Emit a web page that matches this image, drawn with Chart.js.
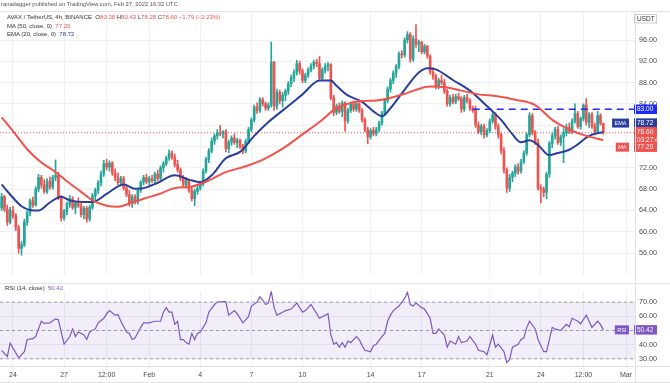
<!DOCTYPE html>
<html><head><meta charset="utf-8">
<script src="https://cdn.jsdelivr.net/npm/chart.js@4.4.0/dist/chart.umd.min.js"></script>
<style>
body{margin:0;width:670px;height:383px;overflow:hidden;background:#fff;position:relative;font-family:"Liberation Sans",Arial,sans-serif;}
.t{position:absolute;white-space:nowrap;line-height:1;color:#444;}
.ln{position:absolute;background:#e0e3eb;}
.r{color:#ef5350}.b{color:#2a3f9d}.p{color:#7e57c2}
</style></head><body>
<canvas id="c1" width="670" height="283" style="position:absolute;left:0;top:0"></canvas>
<canvas id="c2" width="670" height="100" style="position:absolute;left:0;top:283px"></canvas>
<div class="ln" style="left:0;top:11px;width:670px;height:1px"></div>
<div class="ln" style="left:0;top:283px;width:670px;height:1px"></div>
<div class="ln" style="left:0;top:366px;width:670px;height:1px"></div>
<div class="ln" style="left:0;top:382px;width:670px;height:1px"></div>
<div class="ln" style="left:635px;top:11px;width:1px;height:372px"></div>
<div class="t" style="left:1px;top:2px;font-size:5.8px;color:#555">ranadagger published on TradingView.com, Feb 27, 2022 16:32 UTC</div>
<div class="t" style="left:7px;top:14px;font-size:6px;color:#333">AVAX / TetherUS, 4h, BINANCE &nbsp;O<span class="r">80.38</span> H<span class="r">80.43</span> L<span class="r">78.28</span> C<span class="r">78.60</span> <span class="r">−1.79 (−2.23%)</span></div>
<div class="t" style="left:7px;top:23px;font-size:6px;color:#333">MA (50, close, 0) &nbsp;<span class="r">77.20</span></div>
<div class="t" style="left:7px;top:31px;font-size:6px;color:#333">EMA (20, close, 0) &nbsp;<span class="b">78.72</span></div>
<div class="t" style="left:5px;top:285px;font-size:6px;color:#333">RSI (14, close) &nbsp;<span class="p">50.42</span></div>
<script>
// ---- time axis (candle index units, 4h candles, index 0 = Jan 23 08:00) ----
const timeTickPos    = [4, 22, 37, 52, 70, 88, 106, 130, 148, 172, 190, 205, 220];
const timeTickLabels = ['24','27','12:00','Feb','4','7','10','14','17','21','24','12:00','Mar'];
const priceTicks = [56,60,64,68,72,76,80,84,88,92,96];
const rsiTicks = [30,40,50,60,70];
const rsiLevels = [70,50,30];

// ---- candles ----
const open = [64.5,66.6,64.2,61.8,64.0,63.0,60.8,56.9,57.6,61.8,63.6,65.8,65.0,68.0,70.2,68.8,67.6,69.5,68.4,70.2,70.6,66.4,62.6,63.8,65.2,66.2,64.6,65.4,64.9,63.2,64.4,62.4,64.6,66.8,67.8,69.2,70.9,72.8,72.2,72.9,71.0,70.2,69.2,70.0,68.2,67.0,65.4,66.6,65.6,67.8,69.3,70.2,69.4,70.0,69.6,70.8,70.0,72.0,72.8,73.8,74.8,74.0,72.6,71.6,70.0,68.8,69.6,67.8,66.2,67.6,68.2,69.0,71.4,73.6,75.2,77.0,78.0,78.6,78.4,78.8,75.6,76.8,77.6,76.8,77.2,76.0,75.2,77.0,79.2,81.0,83.4,82.8,84.8,84.0,83.2,83.8,91.8,83.6,86.2,84.6,85.6,86.4,87.8,88.8,89.9,91.6,90.2,88.4,89.4,90.4,91.2,91.8,91.6,88.8,90.4,91.0,91.4,85.2,82.4,83.6,82.6,84.2,80.8,82.8,84.0,83.0,84.0,82.8,81.0,79.2,77.8,79.0,78.4,79.2,80.4,82.2,84.6,86.8,88.4,89.8,91.0,93.4,93.2,96.0,97.0,92.4,96.2,95.2,95.6,93.8,94.8,93.0,90.0,89.2,87.4,88.4,88.0,86.4,84.0,85.2,84.4,85.4,85.0,83.0,85.2,84.6,83.2,82.8,80.0,78.8,79.8,78.2,79.0,80.8,82.0,79.8,78.2,75.2,71.6,68.2,70.2,71.0,72.2,71.4,73.2,74.8,78.2,81.8,78.6,76.8,68.2,68.0,67.4,70.8,76.6,78.0,79.2,76.8,77.8,78.6,79.6,78.8,80.8,82.2,79.8,81.2,83.8,80.6,82.0,79.8,78.8,81.8,80.38];
const high = [67.2,66.9,65.0,64.6,64.8,63.4,61.2,58.2,62.4,64.0,66.2,66.5,68.5,70.8,70.6,69.8,70.0,70.3,70.6,73.5,71.2,66.8,64.2,65.6,66.8,66.6,65.8,66.4,65.5,64.8,64.8,65.0,67.2,68.2,69.6,71.4,73.4,73.6,73.3,73.2,71.8,71.0,70.4,70.4,68.6,67.8,67.0,67.0,68.2,69.6,70.6,70.8,70.4,70.6,71.2,71.6,72.4,73.2,74.2,75.4,75.2,74.6,73.4,72.0,70.6,70.2,69.8,68.4,68.0,68.6,69.4,71.8,74.0,75.6,77.6,78.4,79.2,80.0,79.0,79.2,77.2,78.0,78.4,77.6,77.4,76.4,77.4,79.6,81.4,83.8,84.2,85.2,85.2,84.4,84.2,95.6,92.0,86.8,86.6,86.2,86.8,88.2,89.4,90.4,92.2,92.0,90.6,89.8,90.8,91.6,92.2,92.4,92.9,90.8,91.6,91.8,91.6,85.6,84.0,84.2,84.6,84.4,83.2,84.4,84.6,84.4,84.2,83.2,81.4,79.6,79.4,79.6,79.6,80.8,82.6,85.0,87.2,88.8,90.2,91.4,93.8,94.0,96.4,97.6,97.4,96.8,98.9,96.0,95.8,95.2,95.0,93.2,90.8,89.6,88.8,89.4,88.6,86.8,85.6,85.8,85.8,86.0,85.4,85.6,85.8,85.0,83.6,83.6,80.6,80.2,80.2,79.4,81.2,82.6,82.4,80.2,78.6,75.8,72.0,70.8,71.4,72.6,72.8,73.6,75.2,78.6,82.4,82.2,79.0,77.4,68.8,68.4,71.2,77.0,78.6,79.6,79.8,78.2,79.4,80.2,80.4,81.2,84.0,82.6,81.6,84.0,85.0,82.4,82.4,80.4,82.6,82.2,80.43];
const low = [64.0,63.8,61.2,61.5,62.5,60.2,56.0,55.6,57.2,61.2,63.0,64.6,64.8,67.5,68.2,67.2,67.2,68.0,68.0,69.6,66.0,62.0,62.2,63.2,64.6,64.2,63.4,64.6,62.8,62.4,61.8,62.0,64.2,66.0,67.2,68.6,70.4,71.6,71.4,70.6,69.6,68.8,68.6,67.8,66.6,64.8,64.6,65.2,65.2,67.4,68.8,69.0,68.8,69.2,69.2,69.6,69.6,71.2,72.4,73.4,73.6,72.2,71.2,69.6,68.4,68.2,67.4,65.8,64.9,67.0,67.8,68.6,71.0,73.0,74.8,76.4,77.4,78.0,77.6,75.0,74.8,76.2,76.4,75.8,75.6,74.6,74.8,76.6,78.8,80.6,82.2,82.4,83.6,82.8,82.8,83.4,82.8,83.0,84.0,83.4,84.6,85.8,87.2,88.2,89.4,89.6,88.0,88.0,89.0,90.0,90.6,91.0,88.4,88.4,89.8,90.2,84.8,81.8,82.0,82.2,81.6,78.9,80.4,82.4,82.6,82.6,82.4,80.6,78.8,76.5,77.4,78.0,78.0,78.8,80.0,81.8,84.2,86.2,87.8,89.0,90.6,92.6,92.8,95.4,91.8,92.0,94.6,93.8,93.4,93.4,92.6,89.6,88.6,86.8,86.8,87.6,86.0,83.6,83.6,84.0,84.0,84.6,82.4,82.6,84.2,82.8,82.4,79.6,78.4,78.2,77.6,77.8,78.6,80.4,79.2,77.6,74.6,71.0,67.4,67.6,69.4,70.4,70.8,71.0,72.8,74.4,77.8,78.2,76.4,67.8,65.4,66.6,66.2,70.2,75.8,77.4,76.4,76.2,73.0,78.0,78.4,78.4,80.4,79.4,79.2,80.8,80.0,79.6,79.4,78.2,78.4,80.0,78.28];
const close = [66.6,64.2,61.8,64.0,63.0,60.8,56.9,57.6,61.8,63.6,65.8,65.0,68.0,70.2,68.8,67.6,69.5,68.4,70.2,70.6,66.4,62.6,63.8,65.2,66.2,64.6,65.4,64.9,63.2,64.4,62.4,64.6,66.8,67.8,69.2,70.9,72.8,72.2,72.9,71.0,70.2,69.2,70.0,68.2,67.0,65.4,66.6,65.6,67.8,69.3,70.2,69.4,70.0,69.6,70.8,70.0,72.0,72.8,73.8,74.8,74.0,72.6,71.6,70.0,68.8,69.6,67.8,66.2,67.6,68.2,69.0,71.4,73.6,75.2,77.0,78.0,78.6,78.4,78.8,75.6,76.8,77.6,76.8,77.2,76.0,75.2,77.0,79.2,81.0,83.4,82.8,84.8,84.0,83.2,83.8,91.8,83.6,86.2,84.6,85.6,86.4,87.8,88.8,89.9,91.6,90.2,88.4,89.4,90.4,91.2,91.8,91.6,88.8,90.4,91.0,91.4,85.2,82.4,83.6,82.6,84.2,80.8,82.8,84.0,83.0,84.0,82.8,81.0,79.2,77.8,79.0,78.4,79.2,80.4,82.2,84.6,86.8,88.4,89.8,91.0,93.4,93.2,96.0,97.0,92.4,96.2,95.2,95.6,93.8,94.8,93.0,90.0,89.2,87.4,88.4,88.0,86.4,84.0,85.2,84.4,85.4,85.0,83.0,85.2,84.6,83.2,82.8,80.0,78.8,79.8,78.2,79.0,80.8,82.0,79.8,78.2,75.2,71.6,68.2,70.2,71.0,72.2,71.4,73.2,74.8,78.2,81.8,78.6,76.8,68.2,68.0,67.4,70.8,76.6,78.0,79.2,76.8,77.8,78.6,79.6,78.8,80.8,82.2,79.8,81.2,83.8,80.6,82.0,79.8,78.8,81.8,80.38,78.60];

// ---- indicators ----
const maIdx = [0,4,9,14,18,23,28,32,37,41,45,50,55,61,67,72,79,86,93,99,106,112,118,124,134,142,151,157,162,168,174,181,188,194,200,206,212];
const maVal = [81.5,78.9,75.5,73.0,71.6,69.5,67.5,65.9,64.9,64.7,65.3,66.2,67.0,68.2,68.5,69.4,71.2,72.3,73.8,75.6,78.3,80.6,83.2,84.3,84.8,85.9,87.3,87.1,86.5,85.8,85.5,84.8,83.8,81.0,79.2,78.0,77.2];
const emaIdx = [0,3,7,10,13,17,21,24,29,32,37,43,47,50,55,61,66,70,74,79,84,89,94,101,106,112,116,118,122,127,131,134,137,142,147,150,153,159,165,171,176,180,183,186,189,193,196,200,203,207,212];
const emaVal = [68.9,67.0,64.8,64.1,64.0,65.5,66.6,65.9,65.6,65.6,67.1,68.9,68.1,68.2,69.2,70.6,69.8,69.3,70.6,73.8,75.0,78.0,80.6,83.6,85.8,88.4,88.4,87.4,85.6,84.4,82.6,81.7,83.2,86.7,89.9,90.7,90.5,88.5,86.5,83.6,81.0,78.3,76.8,77.2,76.3,74.4,74.8,75.4,76.4,78.0,78.72];
const rsiIdx = [0,2,3,6,8,9,11,12,14,15,17,19,20,21,22,24,25,26,27,29,30,31,33,34,36,37,38,40,41,42,44,45,46,47,49,50,52,54,56,57,58,59,60,61,62,63,64,65,66,67,68,69,70,72,73,75,76,78,79,80,82,83,85,87,88,90,91,92,93,94,95,96,97,99,100,102,104,106,107,108,109,110,112,113,115,116,117,118,119,120,121,122,123,125,126,127,128,130,131,132,134,135,136,137,138,140,142,143,144,145,146,148,149,151,152,153,154,156,157,158,160,161,162,164,165,167,168,170,171,173,174,175,177,178,179,180,182,183,184,185,186,188,189,191,192,194,195,197,199,200,201,203,204,206,207,208,210,211,212];
const rsiVal = [36.0,31.7,41.0,30.7,35.0,43.6,44.2,45.7,56.5,55.0,55.4,58.2,57.5,48.9,40.3,45.7,51.1,45.7,48.9,46.8,43.6,48.9,51.1,55.4,58.6,61.8,64.0,60.8,61.2,56.5,48.9,47.9,43.6,44.6,52.2,55.4,55.4,56.5,56.5,62.9,66.1,62.9,62.9,54.3,56.5,43.6,43.6,41.4,40.3,47.9,43.6,47.9,48.9,55.4,62.9,68.3,70.0,70.4,70.4,60.8,64.0,61.8,55.4,59.7,67.2,70.0,73.7,71.5,68.3,69.4,77.5,66.1,60.8,62.9,64.0,65.1,69.4,62.9,64.0,66.1,68.3,65.1,58.6,59.7,61.8,46.8,40.3,41.4,38.2,41.4,38.2,42.5,41.4,45.7,43.6,39.3,36.0,35.0,39.3,40.3,45.7,47.9,56.5,60.8,64.0,67.2,72.6,76.9,68.3,67.2,69.4,66.1,65.1,58.6,47.9,47.9,51.1,46.8,38.2,42.5,40.3,45.7,41.4,42.5,45.7,40.3,36.0,35.0,32.8,46.8,38.2,40.3,35.0,27.4,29.6,38.2,40.3,43.6,44.6,52.0,56.5,51.1,43.6,35.0,35.0,52.2,51.1,50.0,54.3,52.6,58.6,56.5,54.7,60.8,56.5,52.2,56.5,54.3,50.42];

const lastClose = 78.60, maLast = 77.20, emaLast = 78.72, rsiLast = 50.42;
const resistance = 83.00, resistanceFromIdx = 166;
const xMin = -0.58, xMax = 223.17;

const UP = '#26a69a', DOWN = '#ef5350';
const candleColor = close.map((c, i) => c >= open[i] ? UP : DOWN);
const pts = (xs, ys) => xs.map((x, k) => ({x, y: ys[k]}));

const sideLabels = {
  id: 'sideLabels',
  afterDraw(chart, args, opts) {
    const ctx = chart.ctx, ys = chart.scales.y, ca = chart.chartArea;
    ctx.save();
    ctx.textBaseline = 'middle';
    for (const it of opts.items) {
      const cy = ys.getPixelForValue(it.value) + (it.dy || 0);
      const lines = it.lines;
      const h = lines.length * 8 + 1.5;
      const x0 = ca.right - 1, w = 23;
      ctx.fillStyle = it.bg;
      ctx.fillRect(x0, cy - h / 2, w, h);
      if (it.border) { ctx.strokeStyle = it.border; ctx.lineWidth = 1; ctx.strokeRect(x0 + 0.5, cy - h / 2 + 0.5, w - 1, h - 1); }
      ctx.fillStyle = it.fg;
      ctx.font = '6.5px "Liberation Sans", Arial, sans-serif';
      ctx.textAlign = 'left';
      lines.forEach((s, k) => ctx.fillText(s, x0 + 3, cy - h / 2 + 4.8 + k * 8));
      if (it.tag) {
        ctx.font = '5.5px "Liberation Sans", Arial, sans-serif';
        const tw = ctx.measureText(it.tag).width + 5;
        ctx.fillStyle = it.bg;
        ctx.fillRect(ca.right - 6 - tw, cy - 4.5, tw, 9);
        ctx.fillStyle = it.fg;
        ctx.textAlign = 'center';
        ctx.fillText(it.tag, ca.right - 6 - tw / 2, cy + 0.3);
      }
    }
    ctx.restore();
  }
};

const axFont = {family: '"Liberation Sans", Arial, sans-serif', size: 7.2};
const gridCol = '#eef0f4';

new Chart(document.getElementById('c1'), {
  type: 'bar',
  data: {
    datasets: [
      {type: 'line', data: pts(maIdx, maVal), borderColor: '#f0524c', borderWidth: 2, pointRadius: 0, cubicInterpolationMode: 'monotone', order: 0},
      {type: 'line', data: pts(emaIdx, emaVal), borderColor: '#2a3f9d', borderWidth: 2, pointRadius: 0, cubicInterpolationMode: 'monotone', order: 0},
      {type: 'bar', data: open.map((o, i) => ({x: i, y: [o, close[i]]})), backgroundColor: candleColor, barThickness: 2, minBarLength: 1, grouped: false, order: 1},
      {type: 'bar', data: low.map((l, i) => ({x: i, y: [l, high[i]]})), backgroundColor: candleColor, barThickness: 1, grouped: false, order: 2},
      {type: 'line', data: [{x: resistanceFromIdx, y: resistance}, {x: xMax, y: resistance}], borderColor: '#1f2bf5', borderWidth: 1.6, borderDash: [7, 5], pointRadius: 0, order: 0},
      {type: 'line', data: [{x: xMin, y: lastClose}, {x: xMax, y: lastClose}], borderColor: '#ef5350', borderWidth: 1, borderDash: [1, 2], pointRadius: 0, order: 3}
    ]
  },
  options: {
    responsive: false, animation: false,
    layout: {padding: {top: 11, left: 0, right: 0, bottom: 0}},
    plugins: {legend: {display: false}, tooltip: {enabled: false},
      sideLabels: {items: [
        {value: 100, lines: ['USDT'], bg: '#fff', fg: '#333', border: '#c9ccd4'},
        {value: resistance, lines: [resistance.toFixed(2)], bg: '#1f2bf5', fg: '#fff'},
        {value: emaLast, dy: -9, lines: [emaLast.toFixed(2)], bg: '#2a3f9d', fg: '#fff', tag: 'EMA'},
        {value: lastClose, dy: 3, lines: [lastClose.toFixed(2), '03:27:44'], bg: '#ef5350', fg: '#fff'},
        {value: maLast, dy: 7, lines: [maLast.toFixed(2)], bg: '#ef5350', fg: '#fff', tag: 'MA'}
      ]}
    },
    scales: {
      x: {type: 'linear', min: xMin, max: xMax, offset: false,
        grid: {color: gridCol, offset: false, drawTicks: false}, border: {display: false},
        ticks: {display: false},
        afterBuildTicks: s => { s.ticks = timeTickPos.map(v => ({value: v})); },
        afterFit: s => { s.height = 0; }},
      y: {position: 'right', min: 51.95, max: 101.45,
        grid: {color: gridCol, drawTicks: false}, border: {display: false},
        ticks: {font: axFont, color: '#4a4a4a', padding: 4, callback: v => v.toFixed(2)},
        afterBuildTicks: s => { s.ticks = priceTicks.map(v => ({value: v})); },
        afterFit: s => { s.width = 35; }}
    }
  },
  plugins: [sideLabels]
});

new Chart(document.getElementById('c2'), {
  type: 'line',
  data: {
    datasets: [
      {data: [{x: xMin, y: rsiLevels[0]}, {x: xMax, y: rsiLevels[0]}], borderColor: '#9b9ea8', borderWidth: 1, borderDash: [3, 3], pointRadius: 0, fill: false},
      {data: [{x: xMin, y: rsiLevels[2]}, {x: xMax, y: rsiLevels[2]}], borderColor: '#9b9ea8', borderWidth: 1, borderDash: [3, 3], pointRadius: 0, fill: '-1', backgroundColor: 'rgba(126,87,194,0.10)'},
      {data: [{x: xMin, y: rsiLevels[1]}, {x: xMax, y: rsiLevels[1]}], borderColor: '#9b9ea8', borderWidth: 1, borderDash: [3, 3], pointRadius: 0, fill: false},
      {data: pts(rsiIdx, rsiVal), borderColor: '#7e57c2', borderWidth: 1.2, pointRadius: 0, fill: false, tension: 0}
    ]
  },
  options: {
    responsive: false, animation: false,
    layout: {padding: {top: 0, left: 0, right: 0, bottom: 0}},
    plugins: {legend: {display: false}, tooltip: {enabled: false},
      sideLabels: {items: [{value: rsiLast, lines: [rsiLast.toFixed(2)], bg: '#7e57c2', fg: '#fff', tag: 'RSI'}]}
    },
    scales: {
      x: {type: 'linear', min: xMin, max: xMax, offset: false,
        grid: {color: gridCol, drawTicks: false}, border: {display: false},
        ticks: {font: {family: axFont.family, size: 7}, color: '#4a4a4a', padding: 5, maxRotation: 0, autoSkip: false,
          callback: v => timeTickLabels[timeTickPos.indexOf(v)]},
        afterBuildTicks: s => { s.ticks = timeTickPos.map(v => ({value: v})); },
        afterFit: s => { s.height = 17; }},
      y: {position: 'right', min: 24.92, max: 77.62,
        grid: {color: gridCol, drawTicks: false}, border: {display: false},
        ticks: {font: axFont, color: '#4a4a4a', padding: 4, callback: v => v.toFixed(2)},
        afterBuildTicks: s => { s.ticks = rsiTicks.map(v => ({value: v})); },
        afterFit: s => { s.width = 35; }}
    }
  },
  plugins: [sideLabels]
});
</script>
</body></html>
